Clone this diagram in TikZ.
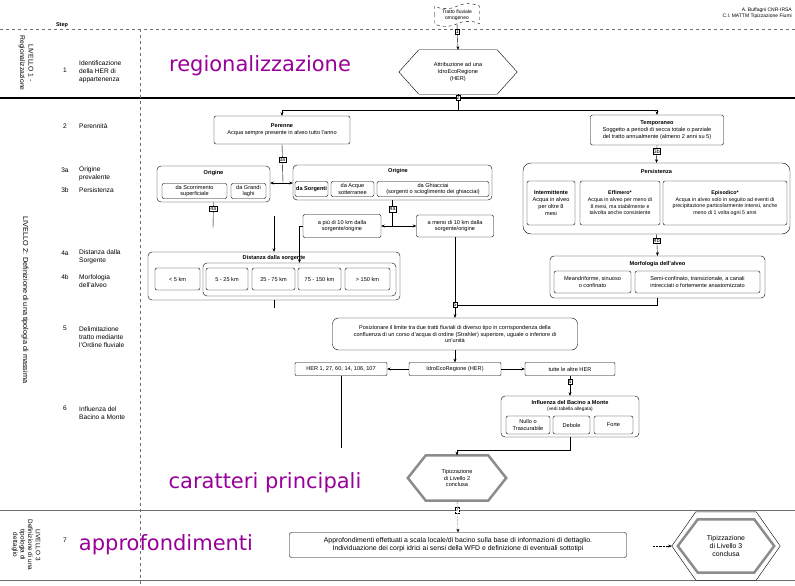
\documentclass[tikz,border=0pt]{standalone}
\usepackage{fontspec}
\setmainfont{Liberation Sans}
\newfontfamily\verdanafont{DejaVu Sans}
\usetikzlibrary{arrows.meta, shapes.symbols}
\definecolor{herviola}{RGB}{153, 0, 153}
\definecolor{hexgrigio}{RGB}{140, 140, 140}
\definecolor{lineagrigio}{RGB}{110, 110, 110}

\begin{document}
\begin{tikzpicture}[x=1pt, y=-1pt,
  every node/.style={font=\fontsize{5.6}{6.8}\selectfont, inner sep=1pt},
  casella/.style={draw, rounded corners=2pt, align=center},
  gruppo/.style={draw, rounded corners=4pt},
  titolo/.style={font=\fontsize{5.6}{6.8}\selectfont\bfseries},
  passo/.style={draw, fill=white, inner sep=0.8pt, font=\fontsize{5.2}{5.5}\selectfont},
  esagono/.style={inner sep=0pt, align=center},
  freccia/.style={-{Stealth[length=3.5pt, width=3pt]}},
  colonna/.style={anchor=west, align=left, font=\fontsize{6.6}{8}\selectfont},
  numero/.style={font=\fontsize{6.6}{8}\selectfont},
  parola/.style={text=herviola, font=\verdanafont\fontsize{21}{24}\selectfont}
]
  \useasboundingbox (0,0) rectangle (795,586);

  % Intestazione e separatori
  \node[font=\fontsize{5.5}{6}\selectfont\bfseries] (step) at (62,25) {Step};
  \node[anchor=east, align=right, font=\fontsize{5}{6.5}\selectfont] (autori) at (793,13)
    {A. Buffagni CNR-IRSA\\C.I. MATTM Tipizzazione Fiumi};
  \draw[lineagrigio, dashed] (0,29) -- (795,29);
  \draw[line width=1.3pt] (0,98) -- (795,98);
  \draw[lineagrigio, line width=0.8pt] (0,510) -- (795,510);
  \draw[lineagrigio, line width=0.8pt] (0,580) -- (795,580);
  \draw[lineagrigio, dashed] (140,29) -- (140,586);

  % Colonna dei livelli e dei passi
  \node[rotate=-90, align=center, font=\fontsize{6.8}{8.5}\selectfont] (liv1) at (26,63)
    {LIVELLO 1 -\\Regionalizzazione};
  \node[rotate=-90, font=\fontsize{7.3}{8}\selectfont] (liv2) at (25,300)
    {LIVELLO 2: Definizione di una tipologia di massima};
  \node[rotate=-90, align=center, font=\fontsize{6.4}{7.6}\selectfont] (liv3) at (26,545)
    {LIVELLO 3\\Definizione di una\\tipologia di\\dettaglio};

  \node[numero] (n1) at (65,70) {1};
  \node[numero] (n2) at (65,126) {2};
  \node[numero] (n3a) at (65,170) {3a};
  \node[numero] (n3b) at (65,190) {3b};
  \node[numero] (n4a) at (65,253) {4a};
  \node[numero] (n4b) at (65,277) {4b};
  \node[numero] (n5) at (65,328) {5};
  \node[numero] (n6) at (65,408) {6};
  \node[numero] (n7) at (65,540) {7};

  \node[colonna] (d1) at (78,72) {Identificazione\\della HER di\\appartenenza};
  \node[colonna] (d2) at (78,126) {Perennità};
  \node[colonna] (d3a) at (78,174) {Origine\\prevalente};
  \node[colonna] (d3b) at (78,190) {Persistenza};
  \node[colonna] (d4a) at (78,257) {Distanza dalla\\Sorgente};
  \node[colonna] (d4b) at (78,281) {Morfologia\\dell'alveo};
  \node[colonna] (d5) at (78,337) {Delimitazione\\tratto mediante\\l'Ordine fluviale};
  \node[colonna] (d6) at (78,413) {Influenza del\\Bacino a Monte};

  \node[parola] (regio) at (260,66) {regionalizzazione};
  \node[parola] (caratteri) at (265,483) {caratteri principali};
  \node[parola] (approf) at (166,545) {approfondimenti};

  % LIVELLO 1
  \node[tape, draw, dashed, align=center, minimum width=45pt, minimum height=22pt,
    font=\fontsize{5}{6}\selectfont] (tratto) at (457,15) {Tratto fluviale\\omogeneo};
  \node[esagono, minimum width=118pt, minimum height=44pt] (her) at (458,72)
    {Attribuzione ad una\\IdroEcoRegione\\(HER)};
  \draw (her.west) -- ([xshift=20pt]her.north west) -- ([xshift=-20pt]her.north east)
    -- (her.east) -- ([xshift=-20pt]her.south east) -- ([xshift=20pt]her.south west) -- cycle;
  \draw[freccia] (tratto.south) -- node[passo, pos=0.3] {1} (her.north);

  % LIVELLO 2: perennita
  \coordinate (bivio0) at (458,110);
  \node[casella, minimum width=136pt, minimum height=28pt] (perenne) at (282,130)
    {\textbf{Perenne}\\Acqua sempre presente in alveo tutto l'anno};
  \node[casella, minimum width=133pt, minimum height=30pt] (temporaneo) at (657,130)
    {\textbf{Temporaneo}\\Soggetto a periodi di secca totale o parziale\\del tratto annualmente (almeno 2 anni su 5)};
  \draw (her.south) -- node[passo, pos=0.2] {2} (bivio0);
  \draw[freccia] (bivio0) -| (perenne.north);
  \draw[freccia] (bivio0) -| (temporaneo.north);

  % Origine
  \node[gruppo, minimum width=113pt, minimum height=36pt] (orig1) at (213.5,184) {};
  \node[titolo] (orig1t) at (213.5,173) {Origine};
  \node[casella, minimum width=65pt, minimum height=15pt] (scorr) at (194.5,191)
    {da Scorrimento\\superficiale};
  \node[casella, minimum width=35pt, minimum height=15pt] (laghi) at (248.5,191)
    {da Grandi\\laghi};
  \node[gruppo, minimum width=199pt, minimum height=35pt] (orig2) at (392.5,182.5) {};
  \node[titolo] (orig2t) at (398,171) {Origine};
  \node[casella, minimum width=33pt, minimum height=15pt, font=\fontsize{5.6}{6.8}\selectfont\bfseries]
    (sorgenti) at (311.5,189) {da Sorgenti};
  \node[casella, minimum width=43pt, minimum height=15pt] (sotterr) at (352.5,189)
    {da Acque\\sotterranee};
  \node[casella, minimum width=112pt, minimum height=15pt] (ghiacc) at (433,189)
    {da Ghiacciai\\(sorgenti o scioglimento dei ghiacciai)};
  \coordinate (bivio1) at (283,183);
  \draw (perenne.south) -- node[passo, pos=0.4] {3a} (bivio1);
  \draw[{Stealth[length=3.5pt, width=3pt]}-{Stealth[length=3.5pt, width=3pt]}]
    (orig1.east |- bivio1) -- (orig2.west |- bivio1);
  \coordinate (fine1) at (213,228);
  \draw (orig1.south) -- node[passo, pos=0.25] {4a} (fine1);

  % distanza dalla sorgente
  \node[casella, minimum width=78pt, minimum height=23pt] (piu) at (342,226)
    {a più di 10 km dalla\\sorgente/origine};
  \node[casella, minimum width=77pt, minimum height=22pt] (meno) at (455,226)
    {a meno di 10 km dalla\\sorgente/origine};
  \coordinate (bivio2) at (392.5,226);
  \draw (orig2.south) -- node[passo, pos=0.35] {4a} (bivio2);
  \draw[freccia] (bivio2) -- (piu.east);
  \draw[freccia] (bivio2) -- (meno.west);

  \node[gruppo, minimum width=252pt, minimum height=48pt] (distanza) at (274,276) {};
  \node[titolo] (distanzat) at (274,258) {Distanza dalla sorgente};
  \node[casella, minimum width=45pt, minimum height=22pt] (km5) at (177.5,279) {< 5 km};
  \node[gruppo, minimum width=193pt, minimum height=33pt] (gruppokm) at (299.5,279.5) {};
  \node[casella, minimum width=42pt, minimum height=22pt] (km25) at (227,279) {5 - 25 km};
  \node[casella, minimum width=43pt, minimum height=22pt] (km75) at (273.5,279) {25 - 75 km};
  \node[casella, minimum width=43pt, minimum height=22pt] (km150) at (319.5,279) {75 - 150 km};
  \node[casella, minimum width=45pt, minimum height=22pt] (kmoltre) at (367.5,279) {> 150 km};
  \coordinate (inizio2) at (274,216);
  \coordinate (fine2) at (274,308);
  \draw[freccia] (piu.west) -| (gruppokm.north);
  \draw[freccia] (inizio2) -- (distanza.north);
  \draw (distanza.south) -- (fine2);

  % persistenza e morfologia
  \node[gruppo, rounded corners=8pt, minimum width=267pt, minimum height=71pt] (persist) at (656.5,198.5) {};
  \node[titolo] (persistt) at (656.5,171) {Persistenza};
  \node[casella, minimum width=48pt, minimum height=44pt] (interm) at (551,203)
    {\textbf{Intermittente}\\Acqua in alveo\\per oltre 8\\mesi};
  \node[casella, minimum width=80pt, minimum height=44pt, font=\fontsize{5.3}{6.6}\selectfont] (effim) at (620,203)
    {\textbf{Effimero*}\\Acqua in alveo per meno di\\8 mesi, ma stabilmente e\\talvolta anche consistente};
  \node[casella, minimum width=124pt, minimum height=44pt, font=\fontsize{5.3}{6.6}\selectfont] (episod) at (725,203)
    {\textbf{Episodico*}\\Acqua in alveo solo in seguito ad eventi di\\precipitazione particolarmente intensi, anche\\meno di 1 volta ogni 5 anni};
  \draw[freccia] (temporaneo.south) -- node[passo, pos=0.35] {3b} (persist.north);

  \node[gruppo, minimum width=215pt, minimum height=42pt] (morfo) at (657.5,277) {};
  \node[titolo] (morfot) at (657.5,264) {Morfologia dell'alveo};
  \node[casella, minimum width=77pt, minimum height=22pt] (meandri) at (592.5,282)
    {Meandriforme, sinuoso\\o confinato};
  \node[casella, minimum width=125pt, minimum height=22pt] (semiconf) at (697.5,282)
    {Semi-confinato, transizionale, a canali\\intrecciati o fortemente anastomizzato};
  \draw[freccia] (persist.south) -- node[passo, pos=0.3] {4b} (morfo.north);

  % delimitazione del tratto
  \node[passo] (passo5) at (455,305) {5};
  \node[draw, rounded corners=6pt, align=center, minimum width=245pt, minimum height=32pt] (posiz) at (455,334)
    {Posizionare il limite tra due tratti fluviali di diverso tipo in corrispondenza della\\
     confluenza di un corso d'acqua di ordine (Strahler) superiore, uguale o inferiore di\\un'unità};
  \draw (meno.south) -- (passo5.north);
  \draw (morfo.south) |- (passo5.east);
  \draw[freccia] (passo5.south) -- (posiz.north);

  \node[casella, rounded corners=1pt, minimum width=92pt, minimum height=13pt] (heridro) at (455,369)
    {IdroEcoRegione (HER)};
  \node[casella, rounded corners=1pt, minimum width=92pt, minimum height=13pt] (hernum) at (341,369)
    {HER 1, 27, 60, 14, 106, 107};
  \node[casella, rounded corners=1pt, minimum width=90pt, minimum height=13pt] (heraltre) at (570,369)
    {tutte le altre HER};
  \draw[freccia] (posiz.south) -- (heridro.north);
  \draw[freccia] (heridro.west) -- (hernum.east);
  \draw[freccia] (heridro.east) -- (heraltre.west);
  \coordinate (fine3) at (341,448);
  \draw (hernum.south) -- (fine3);

  % influenza del bacino a monte
  \node[gruppo, minimum width=138pt, minimum height=41pt] (influenza) at (570,416.5) {};
  \node[titolo] (influenzat) at (570,402) {Influenza del Bacino a Monte};
  \node[font=\fontsize{4.8}{5.5}\selectfont] (tabella) at (570,409) {(vedi tabella allegata)};
  \node[casella, minimum width=44pt, minimum height=18pt] (nullo) at (528,425) {Nullo o\\Trascurabile};
  \node[casella, minimum width=37pt, minimum height=18pt] (debole) at (571.5,425) {Debole};
  \node[casella, minimum width=39pt, minimum height=18pt] (forte) at (613.5,425) {Forte};
  \draw[freccia] (heraltre.south) -- node[passo, pos=0.3] {6} (influenza.north);

  % fine livello 2
  \node[esagono, minimum width=98pt, minimum height=45pt] (tip2) at (457,478)
    {Tipizzazione\\di Livello 2\\conclusa};
  \draw[hexgrigio, line width=2.5pt] (tip2.west) -- ([xshift=18pt]tip2.north west)
    -- ([xshift=-18pt]tip2.north east) -- (tip2.east) -- ([xshift=-18pt]tip2.south east)
    -- ([xshift=18pt]tip2.south west) -- cycle;
  \draw[freccia] (influenza.south) -- (influenza.south |- 0,450) -| (tip2.north);

  % LIVELLO 3
  \node[casella, minimum width=337pt, minimum height=25pt, font=\fontsize{6.9}{8}\selectfont] (appro) at (458,545)
    {Approfondimenti effettuati a scala locale/di bacino sulla base di informazioni di dettaglio.\\
     Individuazione dei corpi idrici ai sensi della WFD e definizione di eventuali sottotipi};
  \draw[freccia, densely dotted] (tip2.south) -- node[passo, pos=0.3] {7} (appro.north);

  \node[esagono, minimum width=108pt, minimum height=68pt] (tip3o) at (726,546) {};
  \draw (tip3o.west) -- ([xshift=24pt]tip3o.north west) -- ([xshift=-24pt]tip3o.north east)
    -- (tip3o.east) -- ([xshift=-24pt]tip3o.south east) -- ([xshift=24pt]tip3o.south west) -- cycle;
  \node[esagono, minimum width=96pt, minimum height=53pt, font=\fontsize{6.9}{8}\selectfont] (tip3) at (726,546)
    {Tipizzazione\\di Livello 3\\conclusa};
  \draw[hexgrigio, line width=2.5pt] (tip3.west) -- ([xshift=20pt]tip3.north west)
    -- ([xshift=-20pt]tip3.north east) -- (tip3.east) -- ([xshift=-20pt]tip3.south east)
    -- ([xshift=20pt]tip3.south west) -- cycle;
  \coordinate (inizio3) at (653,546);
  \draw[freccia, densely dotted] (inizio3) -- (tip3o.west);
\end{tikzpicture}
\end{document}
